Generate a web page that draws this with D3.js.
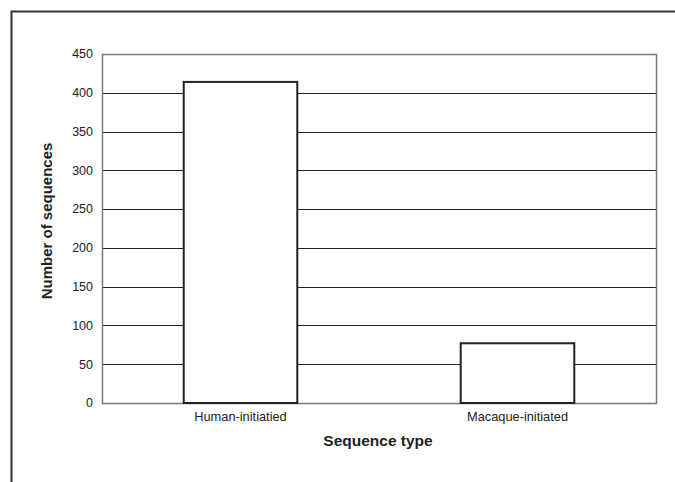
<!DOCTYPE html>
<html lang="en">
<head>
<meta charset="utf-8">
<title>Sequence type</title>
<script src="https://cdn.jsdelivr.net/npm/d3@7"></script>
<style>
  body { margin: 0; background: #fff; }
  text { font-family: "Liberation Sans", Arial, sans-serif; fill: #222; }
</style>
</head>
<body>
<script>
// data
var categories = ["Human-initiatied", "Macaque-initiated"];
var counts = [414, 77];
var yTicks = [0, 50, 100, 150, 200, 250, 300, 350, 400, 450];

var w = 675, h = 482;
var plotL = 102, plotR = 656, plotT = 54, plotB = 403;

var svg = d3.select("body").append("svg")
    .attr("width", w)
    .attr("height", h);

// outer frame, cut off at right and bottom
svg.append("path")
    .attr("d", "M11.5," + h + "V11.5H" + w)
    .attr("fill", "none")
    .attr("stroke", "#333")
    .attr("stroke-width", 2);

var x = d3.scaleBand().domain(categories).range([plotL, plotR]).padding(0);
var y = d3.scaleLinear().domain([0, 450]).range([plotB, plotT]);

// gridlines
svg.selectAll("line.grid")
    .data(yTicks.slice(1, -1))
    .enter().append("line")
    .attr("class", "grid")
    .attr("x1", plotL).attr("x2", plotR)
    .attr("y1", function(d) { return Math.round(y(d)) + 0.5; })
    .attr("y2", function(d) { return Math.round(y(d)) + 0.5; })
    .attr("stroke", "#222")
    .attr("stroke-width", 1);

// plot frame
svg.append("rect")
    .attr("x", plotL + 0.5).attr("y", Math.round(y(450)) + 0.5)
    .attr("width", plotR - plotL).attr("height", Math.round(y(0)) - Math.round(y(450)))
    .attr("fill", "none")
    .attr("stroke", "#777")
    .attr("stroke-width", 1.5);

// bars
var barW = x.bandwidth() * 0.41;
svg.selectAll("rect.bar")
    .data(counts)
    .enter().append("rect")
    .attr("class", "bar")
    .attr("x", function(d, i) { return x(categories[i]) + x.bandwidth() / 2 - barW / 2; })
    .attr("y", function(d) { return y(d); })
    .attr("width", barW)
    .attr("height", function(d) { return y(0) - y(d); })
    .attr("fill", "#fff")
    .attr("stroke", "#222")
    .attr("stroke-width", 2);

// y tick labels
svg.selectAll("text.ytick")
    .data(yTicks)
    .enter().append("text")
    .attr("class", "ytick")
    .attr("x", 93)
    .attr("y", function(d) { return y(d); })
    .attr("dy", "0.35em")
    .attr("text-anchor", "end")
    .attr("font-size", "12.5px")
    .text(function(d) { return d; });

// category labels
svg.selectAll("text.xtick")
    .data(categories)
    .enter().append("text")
    .attr("class", "xtick")
    .attr("x", function(d) { return x(d) + x.bandwidth() / 2; })
    .attr("y", 421)
    .attr("text-anchor", "middle")
    .attr("font-size", "12.8px")
    .text(function(d) { return d; });

// axis titles
svg.append("text")
    .attr("x", 378).attr("y", 446)
    .attr("text-anchor", "middle")
    .attr("font-size", "15.5px")
    .attr("font-weight", "bold")
    .text("Sequence type");

svg.append("text")
    .attr("transform", "translate(52,221) rotate(-90)")
    .attr("text-anchor", "middle")
    .attr("font-size", "15px")
    .attr("font-weight", "bold")
    .text("Number of sequences");
</script>
</body>
</html>
